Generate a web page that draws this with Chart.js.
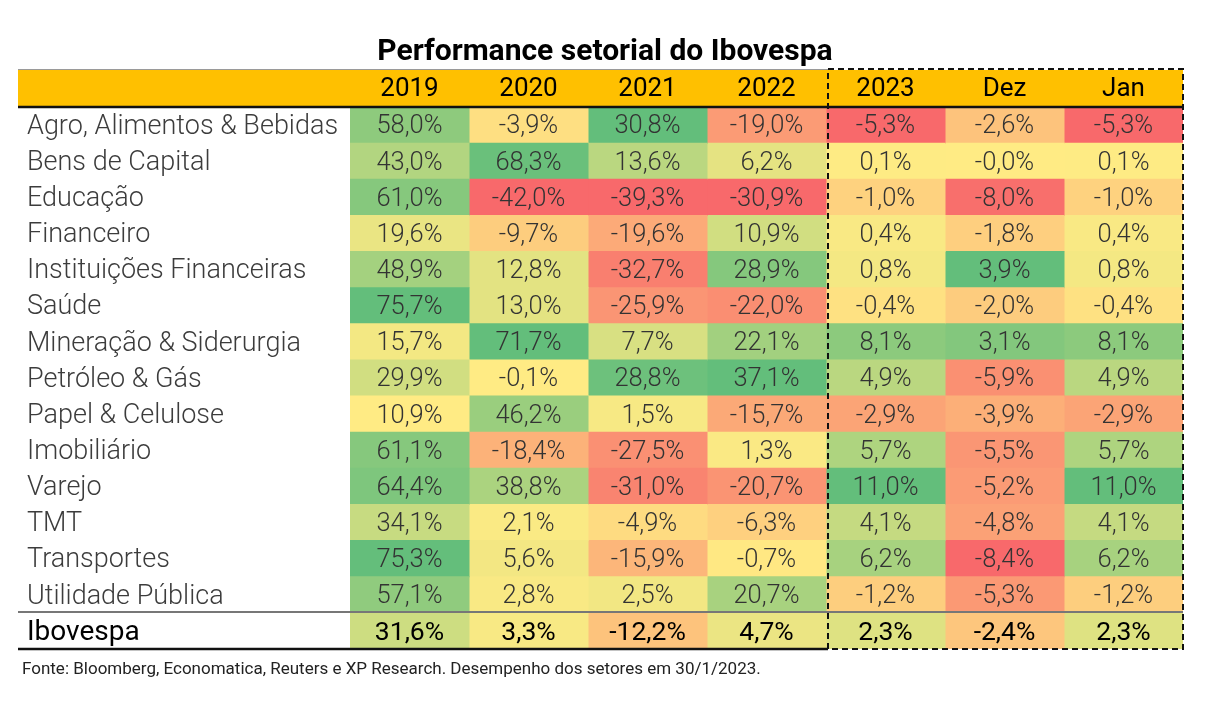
<!DOCTYPE html>
<html><head><meta charset="utf-8">
<script src="https://cdn.jsdelivr.net/npm/chart.js@4.4.1/dist/chart.umd.min.js"></script>
<style>html,body{margin:0;padding:0;background:#fff;}#wrap{width:1228px;height:710px;}</style>
</head><body><div id="wrap"><canvas id="c" width="1228" height="710"></canvas></div>
<script>
const titleText = "Performance setorial do Ibovespa";
const footnote = "Fonte: Bloomberg, Economatica, Reuters e XP Research. Desempenho dos setores em 30/1/2023.";
const rows = ["Agro, Alimentos & Bebidas","Bens de Capital","Educação","Financeiro","Instituições Financeiras","Saúde","Mineração & Siderurgia","Petróleo & Gás","Papel & Celulose","Imobiliário","Varejo","TMT","Transportes","Utilidade Pública","Ibovespa"];
const columns = ["2019","2020","2021","2022","2023","Dez","Jan"];
const v2019 = [58.0,43.0,61.0,19.6,48.9,75.7,15.7,29.9,10.9,61.1,64.4,34.1,75.3,57.1,31.6];
const v2020 = [-3.9,68.3,-42.0,-9.7,12.8,13.0,71.7,-0.1,46.2,-18.4,38.8,2.1,5.6,2.8,3.3];
const v2021 = [30.8,13.6,-39.3,-19.6,-32.7,-25.9,7.7,28.8,1.5,-27.5,-31.0,-4.9,-15.9,2.5,-12.2];
const v2022 = [-19.0,6.2,-30.9,10.9,28.9,-22.0,22.1,37.1,-15.7,1.3,-20.7,-6.3,-0.7,20.7,4.7];
const v2023 = [-5.3,0.1,-1.0,0.4,0.8,-0.4,8.1,4.9,-2.9,5.7,11.0,4.1,6.2,-1.2,2.3];
const vDez  = [-2.6,-0.02,-8.0,-1.8,3.9,-2.0,3.1,-5.9,-3.9,-5.5,-5.2,-4.8,-8.4,-5.3,-2.4];
const vJan  = [-5.3,0.1,-1.0,0.4,0.8,-0.4,8.1,4.9,-2.9,5.7,11.0,4.1,6.2,-1.2,2.3];
const seriesValues = [v2019,v2020,v2021,v2022,v2023,vDez,vJan];

const RED=[248,105,107], YEL=[255,235,132], GRN=[99,190,123];
function mix(a,b,t){return 'rgb('+a.map((x,i)=>Math.round(x+(b[i]-x)*t)).join(',')+')';}
function cellColor(ci,v){
  const arr=seriesValues[ci];
  const mn=Math.min(...arr), mx=Math.max(...arr);
  const mid=Math.max(0,mn);
  if(v>=mid){return mix(YEL,GRN, mx>mid?(v-mid)/(mx-mid):0);}
  return mix(YEL,RED, mn<mid?(v-mid)/(mn-mid):0);
}
function fmt(v){return v.toFixed(1).replace('.',',')+'%';}

const datasets = columns.map((col,ci)=>({
  label: col,
  data: seriesValues[ci].map((v,ri)=>({x:[ci,ci+1], y: rows[ri], v:v})),
  backgroundColor: ctx => ctx.raw ? cellColor(ci, ctx.raw.v) : '#fff',
  borderWidth: 0,
  inflateAmount: 0.5,
  barPercentage: 1,
  categoryPercentage: 1,
  grouped: false
}));

const L=18, R=1183, TOP=70, HB=107, BOT=649, SEP=612, DASHX=828;
const tablePlugin = {
  id:'table',
  beforeDraw(chart){
    const c=chart.ctx; c.save();
    c.fillStyle='#FFC000'; c.fillRect(L,TOP,R-L,HB-TOP);
    c.restore();
  },
  afterDatasetsDraw(chart){
    const c=chart.ctx; c.save();
    c.textAlign='center'; c.textBaseline='middle';
    chart.data.datasets.forEach((ds,di)=>{
      const meta=chart.getDatasetMeta(di);
      meta.data.forEach((bar,ri)=>{
        const last = ri===rows.length-1;
        c.font = last ? '400 26.5px Roboto' : '300 25.5px Roboto';
        c.fillStyle = last ? '#000' : '#333';
        c.fillText(fmt(ds.data[ri].v),(bar.x+bar.base)/2,bar.y+2);
      });
    });
    // lines
    c.strokeStyle='#9a9a9a'; c.lineWidth=1;
    c.beginPath(); c.moveTo(L,TOP-0.5); c.lineTo(DASHX,TOP-0.5); c.stroke();
    c.strokeStyle='#111'; c.lineWidth=2.5;
    c.beginPath(); c.moveTo(L,HB); c.lineTo(R,HB); c.stroke();
    c.strokeStyle='#777'; c.lineWidth=2;
    c.beginPath(); c.moveTo(L,SEP); c.lineTo(R,SEP); c.stroke();
    c.strokeStyle='#111'; c.lineWidth=2.5;
    c.beginPath(); c.moveTo(L,BOT); c.lineTo(DASHX,BOT); c.stroke();
    c.setLineDash([6,4]); c.lineWidth=2; c.strokeStyle='#111';
    c.strokeRect(DASHX,TOP-1,R-DASHX,BOT-TOP+1);
    c.setLineDash([]);
    c.font='17px Roboto'; c.fillStyle='#222'; c.textAlign='left';
    c.fillText(footnote,22,670);
    c.restore();
  }
};

new Chart(document.getElementById('c'),{
  type:'bar',
  data:{labels:rows, datasets},
  options:{
    indexAxis:'y',
    responsive:false,
    animation:false,
    devicePixelRatio:1,
    layout:{padding:{left:27,right:1228-R,top:0,bottom:710-BOT}},
    plugins:{
      legend:{display:false},
      tooltip:{enabled:false},
      title:{display:true,text:titleText,color:'#000',font:{family:'Roboto',size:30,weight:'bold'},padding:{top:34,bottom:0}}
    },
    scales:{
      x:{type:'linear',position:'top',min:0,max:columns.length,
        grid:{display:false,drawTicks:false},border:{display:false},
        afterBuildTicks(s){s.ticks=columns.map((c,i)=>({value:i+0.5}));},
        afterFit(s){s.height=HB-TOP;},
        ticks:{autoSkip:false,maxRotation:0,padding:2,color:'#000',font:{family:'Roboto',size:26},callback:(v,i)=>columns[i]}
      },
      y:{type:'category',grid:{display:false,drawTicks:false},border:{display:false},
        afterFit(s){s.width=323;},
        ticks:{crossAlign:'far',autoSkip:false,padding:0,labelOffset:2,
          color:ctx=>ctx.index===rows.length-1?'#000':'#3c3c3c',
          font:ctx=>ctx.index===rows.length-1?{family:'Roboto',size:28,weight:'400'}:{family:'Roboto',size:27,weight:'300'}}
      }
    }
  },
  plugins:[tablePlugin]
});
</script></body></html>
